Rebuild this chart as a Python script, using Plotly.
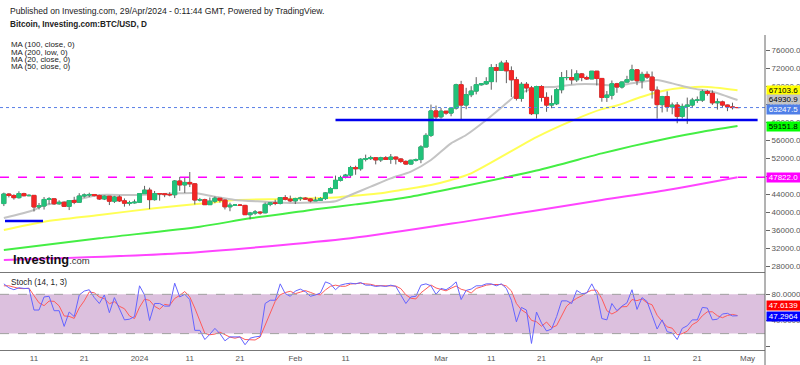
import plotly.graph_objects as go
import pandas as pd

# ---------------- data ----------------
dates = pd.date_range('2023-12-05', '2024-04-29', freq='D')

opens = [41980,44080,43770,43290,44170,43720,43790,41240,41450,42890,43020,41940,42260,41370,42660,42270,43650,43860,43990,43740,43010,43610,42520,43440,42580,42070,42140,
         42280,44180,44950,42850,44170,44160,43970,43940,46970,46120,46660,46350,42780,42840,41740,42510,43150,42740,41270,41620,41660,41570,39520,39880,40080,39940,41810,42120,42030,43300,42940,
         42580,43080,43180,43000,42580,42700,43090,44340,45300,47130,47760,48290,49960,49700,51800,51940,52130,51660,52120,51780,52270,51850,51320,50740,51570,51730,54520,57080,62500,
         61200,62440,62030,63130,68300,63800,66100,66900,68300,68500,69000,72100,71500,73100,71400,69400,65300,68400,67600,61900,67900,65500,63800,64100,67200,69900,69900,69400,70700,69900,69600,
         71300,69700,65500,66000,68500,67800,68900,69400,71600,69200,70600,70000,67100,63900,65700,63400,63800,61300,63500,63800,64900,64900,66800,66400,64300,64500,63800,63400,63250]
highs = [44400,44270,44040,44700,44370,44040,43800,42100,43430,43400,43090,42700,42430,42740,43480,44280,44230,44380,44000,43930,43790,43620,43680,43800,43120,42600,42880,
         44200,45900,45500,44770,44300,44200,44490,47200,47890,47650,48970,46500,43240,43060,43330,43550,43190,42930,42170,41850,41870,41690,40130,40540,40290,42210,42200,42840,43310,43850,43740,
         43270,43480,43380,43120,43510,43390,44470,45590,48180,48160,48550,50330,50370,52020,52820,52570,52160,52350,52480,52950,52370,52020,51540,51700,51950,54910,57570,63910,63680,
         63160,62480,63230,68530,69170,67620,67990,69990,68590,69970,72870,72900,73620,73780,72370,70050,68870,68890,68040,68090,68200,66630,65960,67570,71130,71530,71730,71520,70900,70290,71350,
         71330,69710,66910,69250,68720,69020,70280,72740,71740,71170,71260,71230,67930,65840,66850,64360,64470,64120,65460,65400,65700,67210,67170,67040,65260,64780,63900,64330,63280]
lows = [41420,43350,42850,43080,43590,43590,40230,40680,40650,41800,41690,41720,41260,40540,41850,42210,43300,43420,43580,42780,42760,41650,42100,42320,41300,41520,41980,
        42180,44170,40750,42630,42620,43400,43590,43200,44800,44330,45640,41770,42460,41720,41730,42070,42200,40670,40280,41450,41500,39450,38500,39480,39540,39820,41400,41630,41800,42690,42300,
        41880,42570,42880,42260,42540,42580,42790,44330,45250,46870,47560,47720,48360,49260,51320,51640,50660,51200,51710,50780,50660,50980,50580,50620,51290,50920,54460,56720,60400,
        60800,61660,61320,62800,60300,62880,65560,66170,68100,68280,67200,68840,71360,68660,65600,64810,64550,66600,61590,60800,64560,62310,63100,63800,66400,69300,68390,68900,69090,69370,69580,
        68140,64540,64500,65050,66520,67460,68790,69100,68220,67490,69570,65250,60800,62170,62330,61760,59770,60830,59630,63160,64290,64500,65870,63840,62800,63350,62450,62820,63220]
closes = [44080,43770,43290,44170,43720,43790,41240,41450,42890,43020,41940,42260,41370,42660,42270,43650,43860,43990,43740,43010,43610,42520,43440,42580,42070,42140,42280,
          44180,44950,42850,44170,44160,43970,43940,46970,46120,46660,46350,42780,42840,41740,42510,43150,42740,41270,41620,41660,41570,39520,39880,40080,39940,41810,42120,42030,43300,42940,42580,
          43080,43180,43000,42580,42700,43090,44340,45300,47130,47760,48290,49960,49700,51800,51940,52130,51660,52120,51780,52270,51850,51320,50740,51570,51730,54520,57080,62500,61200,
          62440,62030,63130,68300,63800,66100,66900,68300,68500,69000,72100,71500,73100,71400,69400,65300,68400,67600,61900,67900,65500,63800,64100,67200,69900,69900,69400,70700,69900,69600,71300,
          69700,65500,66000,68500,67800,68900,69400,71600,69200,70600,70000,67100,63900,65700,63400,63800,61300,63500,63800,64900,64900,66800,66400,64300,64500,63800,63400,63250,63247.5]

ma20_dates = ['2023-12-05','2023-12-11','2023-12-13','2023-12-18','2023-12-22','2023-12-24','2023-12-31','2024-01-09','2024-01-12',
              '2024-01-16','2024-01-20','2024-01-26','2024-01-31','2024-02-05','2024-02-09','2024-02-12','2024-02-16','2024-02-20',
              '2024-02-24','2024-02-28','2024-03-03','2024-03-06','2024-03-10','2024-03-14','2024-03-16','2024-03-20','2024-03-24',
              '2024-03-28','2024-04-01','2024-04-05','2024-04-08','2024-04-13','2024-04-16','2024-04-20','2024-04-24','2024-04-29']
ma20_vals = [38780,40550,41660,42400,43500,43880,43880,44250,44300,43500,42770,42400,42100,42200,42500,43880,45720,47570,
             49050,51630,55330,57170,60500,64190,66030,67650,67870,68400,68400,68090,68610,69350,68610,67500,66770,64930.9]

ma50_dates = ['2023-12-05','2023-12-13','2023-12-24','2024-01-04','2024-01-14','2024-01-20','2024-01-30','2024-02-09','2024-02-12',
              '2024-02-18','2024-02-22','2024-02-28','2024-03-03','2024-03-07','2024-03-20','2024-03-27','2024-04-02','2024-04-05',
              '2024-04-10','2024-04-15','2024-04-22','2024-04-29']
ma50_vals = [36120,37970,39450,40930,42040,42770,43000,43300,43650,44250,44990,46090,47200,48680,56700,60300,62900,63700,
             65660,67140,67870,67103.6]

ma100_dates = ['2023-12-05','2023-12-24','2024-01-13','2024-01-23','2024-02-02','2024-02-05','2024-02-13','2024-02-24','2024-03-05',
               '2024-03-20','2024-04-02','2024-04-08','2024-04-15','2024-04-22','2024-04-29']
ma100_vals = [31690,34280,36860,38720,40200,40710,41800,43500,45720,49300,53100,54700,56400,57900,59151.8]

ma200_dates = ['2023-12-05','2024-01-09','2024-02-12','2024-03-07','2024-04-02','2024-04-15','2024-04-29']
ma200_vals = [29480,30960,34280,38200,42770,44990,47822.0]

stoch_k = [96,90,87,90,89,89,56,56,76,77,55,55,31,53,46,79,85,87,75,66,79,52,75,58,41,42,46,
           93,79,40,66,66,62,62,97,76,80,72,25,25,11,19,28,20,9,15,15,15,3,13,15,16,66,71,71,96,81,77,
           85,88,84,77,79,82,99,96,87,94,96,97,96,98,94,94,92,93,92,94,92,80,66,76,77,94,96,93,80,
           89,87,92,99,72,86,88,93,93,96,96,93,96,89,71,38,60,56,5,53,36,24,27,46,70,70,66,86,81,82,96,
           81,43,41,66,55,62,67,87,57,75,69,48,27,41,23,21,11,28,32,41,41,60,59,41,42,50,51,47,47.2964]
stoch_d = [93,93,91,89,88.7,89.3,78,67,62.7,69.7,69.3,62.3,47,46.3,43.3,59.3,70,83.7,82.3,76,73.3,65.7,68.7,61.7,58,47,43,
           60.3,72.7,70.7,61.7,57.3,64.7,63.3,73.7,78.3,84.3,76,59,40.7,20.3,18.3,19.3,22.3,19,14.7,13,15,11,10.3,10.3,14.7,32.3,51,69.3,79.3,82.7,84.7,
           81,83.3,85.7,83,80,79.3,86.7,92.3,94,92.3,92.3,95.7,96.3,97,96,95.3,93.3,93,92.3,93,92.7,88.7,79.3,74,73,82.3,89,94.3,89.7,
           87.3,85.3,89.3,92.7,87.7,85.7,82,89,91.3,94,95,95,95,92.7,85.3,66,56.3,51.3,40.3,38,31.3,37.7,29,32.3,47.7,62,68.7,74,77.7,83,86.3,
           86.3,73.3,55,50,54,61,61.3,72,70.3,73,67,64,48,38.7,30.3,28.3,18.3,20,23.7,33.7,38,47.3,53.3,53.3,47.3,44.3,47.7,49.3,47.6139]

# drawn levels
support_level = [60500, '2024-02-09', '2024-05-03']
old_level = [38100, '2023-12-05 05:30', '2023-12-12 19:00']
ma200_level = 47822.0
last_close = 63247.5

price_ticks = list(range(28000, 76001, 4000))
x_tick_dates = ['2023-12-11','2023-12-21','2024-01-01','2024-01-11','2024-01-21','2024-02-01','2024-02-11',
                '2024-03-01','2024-03-11','2024-03-21','2024-04-01','2024-04-11','2024-04-21','2024-05-01']
x_tick_text = ['11','21','2024','11','21','Feb','11','Mar','11','21','Apr','11','21','May']

# ---------------- styling ----------------
FONT = 'Liberation Sans, Arial, sans-serif'
GREEN = '#22c27a'
RED = '#f22626'
WICK = '#5e5e5e'
XR = ['2023-12-04 05:37', '2024-05-04 11:17']
PR = [26820, 79323]
XD = [0, 765 / 800]

fig = go.Figure()

# moving averages (behind candles)
for xs, ys, col in [(ma200_dates, ma200_vals, '#ff44ff'), (ma100_dates, ma100_vals, '#44ee44'),
                    (ma50_dates, ma50_vals, '#ffff55'), (ma20_dates, ma20_vals, '#c4c4c4')]:
    fig.add_trace(go.Scatter(x=xs, y=ys, mode='lines', line=dict(color=col, width=2, shape='spline', smoothing=0.7),
                             xaxis='x', yaxis='y', hoverinfo='skip'))

# candles: wicks then bodies, on an overlaid axis so they sit above the MAs
fig.add_trace(go.Candlestick(x=dates, open=opens, high=highs, low=lows, close=closes, xaxis='x', yaxis='y3',
                             whiskerwidth=0,
                             increasing=dict(line=dict(color=WICK, width=1), fillcolor=GREEN),
                             decreasing=dict(line=dict(color=WICK, width=1), fillcolor=RED)))
body_hi = [max(o, c) for o, c in zip(opens, closes)]
body_lo = [min(o, c) for o, c in zip(opens, closes)]
fig.add_trace(go.Candlestick(x=dates, open=opens, high=body_hi, low=body_lo, close=closes, xaxis='x', yaxis='y3',
                             whiskerwidth=0,
                             increasing=dict(line=dict(color=GREEN, width=1), fillcolor=GREEN),
                             decreasing=dict(line=dict(color=RED, width=1), fillcolor=RED)))

# drawn horizontal levels
for lvl in (support_level, old_level):
    fig.add_trace(go.Scatter(x=[lvl[1], lvl[2]], y=[lvl[0], lvl[0]], mode='lines', xaxis='x', yaxis='y3',
                             line=dict(color='#0000ee', width=2.5), hoverinfo='skip'))

# stochastic
fig.add_trace(go.Scatter(x=dates, y=stoch_d, mode='lines', xaxis='x2', yaxis='y2',
                         line=dict(color='#ff5a5a', width=1), hoverinfo='skip'))
fig.add_trace(go.Scatter(x=dates, y=stoch_k, mode='lines', xaxis='x2', yaxis='y2',
                         line=dict(color='#6464ff', width=1), hoverinfo='skip'))

shapes = [
    dict(type='line', xref='x domain', x0=0, x1=1, yref='y', y0=ma200_level, y1=ma200_level,
         line=dict(color='#ff00ff', width=1.5, dash='dash'), layer='above'),
    dict(type='line', xref='x domain', x0=0, x1=1, yref='y', y0=last_close, y1=last_close,
         line=dict(color='#5a7fe6', width=1, dash='dot'), layer='above'),
    dict(type='rect', xref='x2 domain', x0=0, x1=1, yref='y2', y0=20, y1=80,
         fillcolor='#dcc0de', line=dict(width=0), layer='below'),
    dict(type='line', xref='x2 domain', x0=0, x1=1, yref='y2', y0=80, y1=80,
         line=dict(color='#a0a0a0', width=1, dash='dash')),
    dict(type='line', xref='x2 domain', x0=0, x1=1, yref='y2', y0=20, y1=20,
         line=dict(color='#a0a0a0', width=1, dash='dash')),
    dict(type='line', xref='paper', x0=765 / 800, x1=765 / 800, yref='paper', y0=0.9, y1=-15 / 350,
         line=dict(color='#666666', width=1)),
]

def ptxt(text, px, py, size, bold=False, color='#222222'):
    return dict(text=('<b>%s</b>' % text) if bold else text, xref='paper', yref='paper',
                x=px / 800, y=1 - py / 350, xanchor='left', yanchor='middle', showarrow=False,
                font=dict(family=FONT, size=size, color=color))

annotations = [
    ptxt('Published on Investing.com, 29/Apr/2024 - 0:11:44 GMT, Powered by TradingView.', 8, 11, 8.6),
    ptxt('Bitcoin, Investing.com:BTC/USD, D', 8, 25, 8.2, bold=True),
    ptxt('MA (100, close, 0)', 9, 45, 7.9),
    ptxt('MA (200, low, 0)', 9, 52.3, 7.9),
    ptxt('MA (20, close, 0)', 9, 59.6, 7.9),
    ptxt('MA (50, close, 0)', 9, 67, 7.9),
    ptxt('Stoch (14, 1, 3)', 9, 282, 8.2),
    dict(text="<b>Investing</b><span style='font-size:9.5px;color:#333'>.com</span>", xref='paper', yref='paper',
         x=11 / 800, y=1 - 259 / 350, xanchor='left', yanchor='middle', showarrow=False,
         font=dict(family=FONT, size=12.8, color='#111111')),
]

def vlabel(val, yref, bg, fc, text, yshift=0):
    return dict(text=text, xref='paper', x=766 / 800, xanchor='left', yref=yref, y=val, yanchor='middle',
                yshift=yshift, showarrow=False, bgcolor=bg, width=33, height=9, borderpad=0, align='center',
                font=dict(family=FONT, size=8, color=fc))

annotations += [
    vlabel(ma50_vals[-1], 'y', '#ffff00', '#000000', f'{ma50_vals[-1]:.1f}'),
    vlabel(ma20_vals[-1], 'y', '#c4c4c4', '#000000', f'{ma20_vals[-1]:.1f}'),
    vlabel(last_close, 'y', '#4f7fe8', '#ffffff', f'{last_close:.1f}', yshift=-2),
    vlabel(ma100_vals[-1], 'y', '#00ff00', '#000000', f'{ma100_vals[-1]:.1f}'),
    vlabel(ma200_level, 'y', '#ff00ff', '#ffffff', f'{ma200_level:.1f}'),
    vlabel(stoch_d[-1], 'y2', '#ff0000', '#ffffff', f'{stoch_d[-1]:.4f}', yshift=10),
    vlabel(stoch_k[-1], 'y2', '#0000ff', '#ffffff', f'{stoch_k[-1]:.4f}', yshift=-1),
]

tickfont = dict(family=FONT, size=8, color='#555555')
fig.update_layout(
    width=800, height=365, margin=dict(l=0, r=0, t=0, b=15),
    paper_bgcolor='white', plot_bgcolor='white', showlegend=False,
    boxgap=0.2, boxgroupgap=0.0, hovermode=False,
    xaxis=dict(domain=XD, range=XR, anchor='y', showticklabels=False, showgrid=False, zeroline=False,
               rangeslider=dict(visible=False), type='date'),
    yaxis=dict(domain=[0.22286, 0.9], range=PR, side='right', anchor='x', tickvals=price_ticks,
               tickformat='.1f', ticks='outside', ticklen=4, tickcolor='#666666', tickfont=tickfont,
               showgrid=False, zeroline=False, showline=False),
    yaxis3=dict(overlaying='y', range=PR, anchor='x', visible=False, showgrid=False, zeroline=False),
    xaxis2=dict(domain=XD, range=XR, anchor='y2', matches='x', type='date', tickvals=x_tick_dates,
                ticktext=x_tick_text, tickfont=tickfont, ticks='', showgrid=False, zeroline=False,
                showline=True, linecolor='#777777', linewidth=1, mirror=True),
    yaxis2=dict(domain=[0, 0.21914], range=[-5, 112.1], side='right', anchor='x2', tickvals=[0, 40, 80],
                ticktext=['', '40.0000', '80.0000'], ticks='outside', ticklen=4, tickcolor='#666666',
                tickfont=tickfont, showgrid=False, zeroline=False),
    shapes=shapes, annotations=annotations,
)

fig.write_html('out.html', config={'displayModeBar': False},
               post_script="document.body.style.margin='0px';document.body.style.overflow='hidden';")
